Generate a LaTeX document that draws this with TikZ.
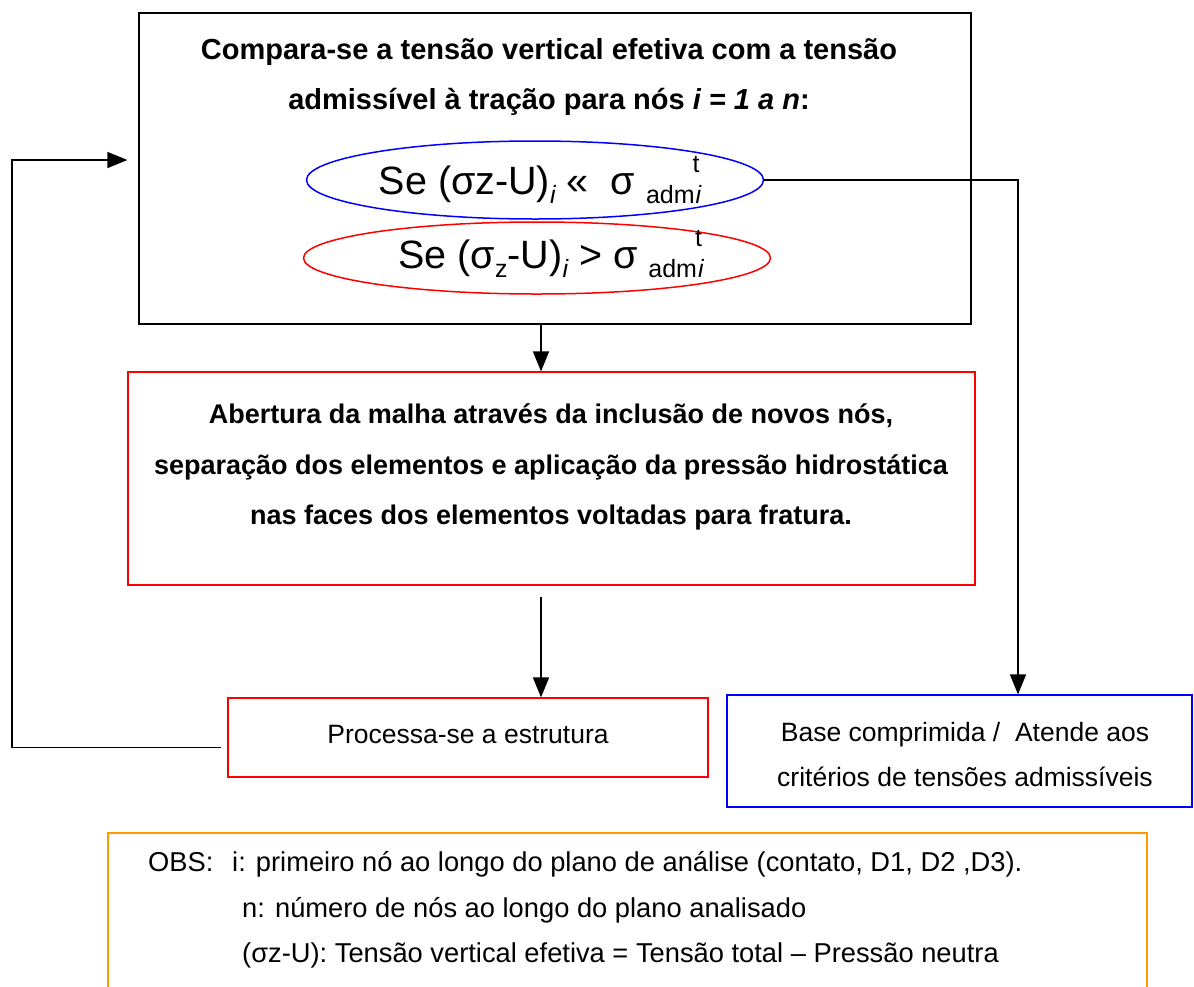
\documentclass[tikz,border=0pt]{standalone}
\usepackage{fontspec}
\setmainfont{Liberation Sans}
\usetikzlibrary{arrows.meta,shapes.geometric}
\definecolor{obsorange}{RGB}{255,153,0}
\newcommand{\lowi}[1]{\raisebox{-0.22em}{\fontsize{25}{25}\selectfont #1}}
\newcommand{\hight}[1]{\raisebox{0.55em}{\fontsize{25}{25}\selectfont #1}}
\begin{document}
\begin{tikzpicture}[x=1pt,y=-1pt,
  boxline/.style={draw, line width=1.2pt, inner sep=0pt},
  oval/.style={ellipse, draw, line width=1.5pt, inner sep=0pt},
  conn/.style={line width=1.5pt},
  arr/.style={conn, -{Triangle[length=20pt,width=16pt]}},
  titletxt/.style={font=\fontsize{29}{50}\selectfont\bfseries, align=center},
  boldtxt/.style={font=\fontsize{27}{50.5}\selectfont\bfseries, align=center},
  regtxt/.style={font=\fontsize{26.5}{45}\selectfont, align=center},
  ovaltxt/.style={font=\fontsize{39.5}{42}\selectfont, inner sep=0pt},
  obstxt/.style={font=\fontsize{27.3}{30}\selectfont, anchor=base west, inner sep=0pt}
]
\useasboundingbox (0,0) rectangle (1194,986);

% top box
\node[boxline, minimum width=832pt, minimum height=311pt] (top) at (555,168.5) {};
\node[titletxt] (title) at (549,77) {Compara-se a tensão vertical efetiva com a tensão\\admissível à tração para nós \textit{i = 1 a n}:};

% ellipses
\node[oval, draw=blue, minimum width=457pt, minimum height=78pt] (e1) at (535,180) {};
\node[ovaltxt] (t1) at (540,180) {Se (σz-U)\lowi{\itshape i} «~~σ \lowi{adm}\kern-0.05em\hight{t}\kern-0.1em\lowi{\itshape i}};
\node[oval, draw=red, minimum width=467pt, minimum height=72pt] (e2) at (537,258) {};
\node[ovaltxt] (t2) at (551,254) {Se (σ\lowi{z}-U)\lowi{\itshape i} > σ \lowi{adm}\kern-0.05em\hight{t}\kern-0.1em\lowi{\itshape i}};

% red box
\node[boxline, draw=red, minimum width=847pt, minimum height=213pt] (red2) at (551.5,478.5) {};
\node[boldtxt] (redtxt) at (551,467) {Abertura da malha através da inclusão de novos nós,\\separação dos elementos e aplicação da pressão hidrostática\\nas faces dos elementos voltadas para fratura.};

% process box
\node[boxline, draw=red, minimum width=480pt, minimum height=79pt] (proc) at (468,737.5) {};
\node[regtxt] (proctxt) at (468,735) {Processa-se a estrutura};

% blue box
\node[boxline, draw=blue, minimum width=465pt, minimum height=112pt] (bbox) at (959.5,751) {};
\node[regtxt] (btxt) at (965,755) {Base comprimida /~~Atende aos\\critérios de tensões admissíveis};

% obs box
\draw[line width=1.2pt, draw=obsorange] (108,1000) -- (108,833) -- (1147,833) -- (1147,1000);
\node[obstxt] (o1) at (148,871) {OBS:};
\node[obstxt] (o2) at (232,871) {i: primeiro nó ao longo do plano de análise (contato, D1, D2 ,D3).};
\node[obstxt] (o3) at (242,917) {n: número de nós ao longo do plano analisado};
\node[obstxt] (o4) at (242,962) {(σz-U): Tensão vertical efetiva = Tensão total – Pressão neutra};

% connectors
\coordinate (ax) at (541,0);
\coordinate (rx) at (1018,0);
\coordinate (fbl) at (12,160);
\draw[arr] (top.south -| ax) -- (red2.north -| ax);
\draw[arr, shorten <=11pt] (red2.south -| ax) -- (proc.north -| ax);
\draw[arr] (e1.east) -| (bbox.north -| rx);
\draw[arr, shorten >=11pt] ([xshift=-6pt,yshift=-10pt]proc.west) -| (fbl) -- (top.west |- fbl);
\end{tikzpicture}
\end{document}
